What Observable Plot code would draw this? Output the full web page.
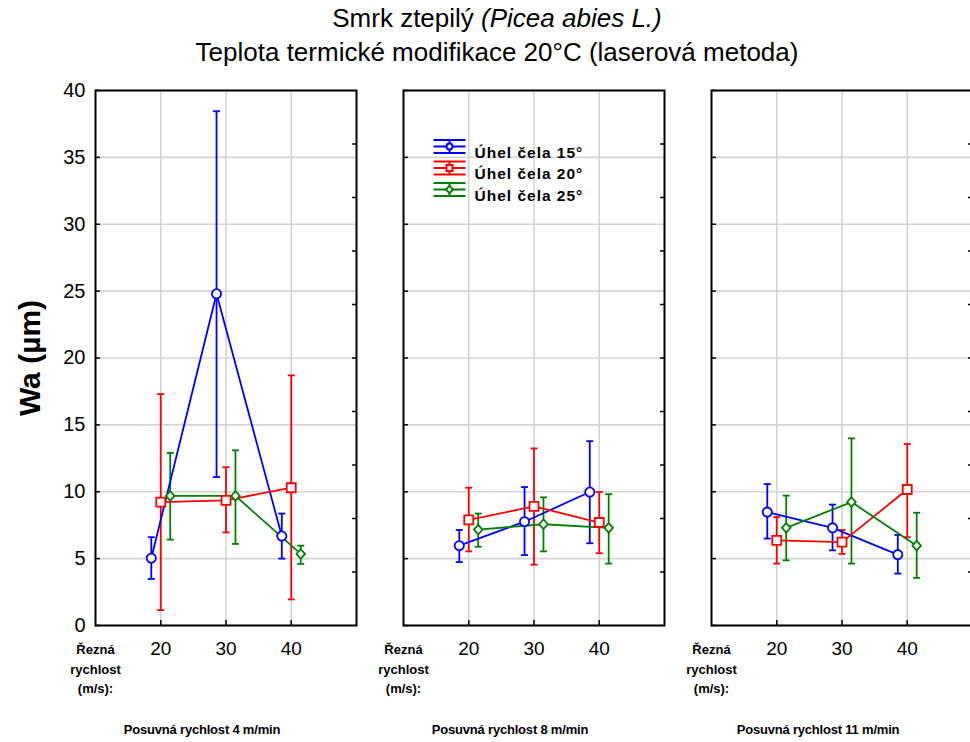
<!DOCTYPE html>
<html><head><meta charset="utf-8">
<script src="https://cdn.jsdelivr.net/npm/d3@7"></script>
<script src="https://cdn.jsdelivr.net/npm/@observablehq/plot@0.6"></script>
<style>
html,body{margin:0;padding:0;overflow:hidden;background:#fff;}
#wrap{position:relative;width:970px;height:742px;overflow:hidden;font-family:Arial,"Liberation Sans",sans-serif;}
#title{position:absolute;left:12px;top:1px;width:970px;text-align:center;font-size:26px;line-height:34px;color:#000;}
#chart{position:absolute;left:0;top:0;}
</style></head><body>
<div id="wrap"><div id="chart"></div><div id="title">Smrk ztepilý <i>(Picea abies L.)</i><br>Teplota termické modifikace 20°C (laserová metoda)</div></div>
<script>
// ---- data ----
const panels = ["Posuvná rychlost 4 m/min", "Posuvná rychlost 8 m/min", "Posuvná rychlost 11 m/min"];
const speeds = [20, 30, 40];
const series = ["Úhel čela 15°", "Úhel čela 20°", "Úhel čela 25°"];
const colors = ["#0000ff", "#ff0000", "#008000"];
const yTicks = [0, 5, 10, 15, 20, 25, 30, 35, 40];
const rightTicks = [4, 8, 12, 16, 20, 24, 28, 32, 36];
const rezna = "Řezná\nrychlost\n(m/s):";

// values per series, panel-major (4, 8, 11 m/min) x speed (20, 30, 40)
const mean15 = [5.03, 24.8, 6.69, 5.97, 7.76, 9.98, 8.48, 7.30, 5.30];
const high15 = [6.60, 38.45, 8.37, 7.14, 10.35, 13.78, 10.57, 9.04, 6.77];
const low15  = [3.48, 11.10, 5.00, 4.74, 5.27, 6.15, 6.50, 5.62, 3.88];
const mean20 = [9.23, 9.36, 10.30, 7.89, 8.91, 7.70, 6.37, 6.23, 10.17];
const high20 = [17.30, 11.83, 18.70, 10.30, 13.24, 9.98, 8.10, 7.14, 13.57];
const low20  = [1.15, 6.96, 1.95, 5.54, 4.55, 5.40, 4.63, 5.35, 6.60];
const mean25 = [9.69, 9.69, 5.35, 7.17, 7.57, 7.30, 7.30, 9.23, 5.97];
const high25 = [12.90, 13.10, 5.97, 8.37, 9.58, 9.82, 9.71, 13.99, 8.43];
const low25  = [6.42, 6.10, 4.60, 5.89, 5.54, 4.63, 4.87, 4.63, 3.56];

const means = [mean15, mean20, mean25];
const highs = [high15, high20, high25];
const lows = [low15, low20, low25];

// ---- layout / style helpers ----
const dodge = [-1.45, 0, 1.45];

const circleSym = {draw(ctx) { ctx.moveTo(4.6, 0); ctx.arc(0, 0, 4.6, 0, 2 * Math.PI); }};
const squareSym = {draw(ctx) { ctx.rect(-4.5, -4.5, 9, 9); }};
const diamondSym = {draw(ctx) { ctx.moveTo(0, -4.8); ctx.lineTo(4.3, 0); ctx.lineTo(0, 4.8); ctx.lineTo(-4.3, 0); ctx.closePath(); }};
const smallCircle = {draw(ctx) { ctx.moveTo(3, 0); ctx.arc(0, 0, 3, 0, 2 * Math.PI); }};
const smallSquare = {draw(ctx) { ctx.rect(-3, -3, 6, 6); }};
const smallDiamond = {draw(ctx) { ctx.moveTo(0, -3.6); ctx.lineTo(3.6, 0); ctx.lineTo(0, 3.6); ctx.lineTo(-3.6, 0); ctx.closePath(); }};
const symbolShapes = [circleSym, squareSym, diamondSym];
const legendShapes = [smallCircle, smallSquare, smallDiamond];

const rows = [];
series.forEach((s, si) => panels.forEach((p, pi) => speeds.forEach((v, vi) => {
  const k = pi * 3 + vi;
  rows.push({panel: p, series: s, si, speed: v, mean: means[si][k], lo: lows[si][k], hi: highs[si][k]});
})));
const X = d => d.speed + dodge[d.si];

const capSymbol = {draw(ctx) { ctx.moveTo(-3.5, 0); ctx.lineTo(3.5, 0); }};
const legendGlyph = {draw(ctx) {
  for (const yy of [-6.5, 0, 6.5]) { ctx.moveTo(-16, yy); ctx.lineTo(16, yy); }
  ctx.moveTo(0, -6.5); ctx.lineTo(0, 6.5);
}};

const SW = 1.8;
const legendMarks = series.flatMap((s, i) => [
  Plot.dot([s], {fx: () => panels[1], frameAnchor: "top-left", dx: 46, dy: 56 + 21.5 * i,
    symbol: legendGlyph, stroke: colors[i], strokeWidth: 2, fill: "none"}),
  Plot.dot([s], {fx: () => panels[1], frameAnchor: "top-left", dx: 46, dy: 56 + 21.5 * i,
    symbol: legendShapes[i], stroke: colors[i], strokeWidth: 2, fill: "white"}),
  Plot.text([s], {fx: () => panels[1], frameAnchor: "top-left", dx: 71, dy: 56 + 21.5 * i,
    text: d => d, textAnchor: "start", fontSize: 15.5, fontWeight: "bold", fill: "black"})
]);

const chart = Plot.plot({
  width: 975,
  height: 742,
  marginLeft: 94,
  marginRight: 2,
  marginTop: 90,
  marginBottom: 117,
  style: {fontFamily: "Arial, 'Liberation Sans', sans-serif", color: "black", background: "white", maxWidth: "none", overflow: "visible"},
  fx: {domain: panels, paddingInner: 0.154, paddingOuter: 0, axis: null, label: null},
  x: {domain: [10, 50]},
  y: {domain: [0, 40]},
  color: {domain: series, range: colors},
  symbol: {domain: series, range: symbolShapes},
  marks: [
    Plot.gridY({ticks: yTicks, stroke: "#d4d4d4", strokeOpacity: 1, strokeWidth: 1.6}),
    Plot.gridX({ticks: speeds, stroke: "#d4d4d4", strokeOpacity: 1, strokeWidth: 1.6}),
    Plot.ruleX(rows, {fx: "panel", x: X, y1: "lo", y2: "hi", stroke: "series", strokeWidth: SW}),
    Plot.dot(rows, {fx: "panel", x: X, y: "lo", symbol: capSymbol, stroke: "series", strokeWidth: SW, fill: "none"}),
    Plot.dot(rows, {fx: "panel", x: X, y: "hi", symbol: capSymbol, stroke: "series", strokeWidth: SW, fill: "none"}),
    Plot.line(rows, {fx: "panel", x: X, y: "mean", z: "series", stroke: "series", strokeWidth: SW}),
    Plot.dot(rows, {fx: "panel", x: X, y: "mean", symbol: "series", stroke: "series", fill: "white", strokeWidth: SW}),
    Plot.frame({stroke: "black", strokeWidth: 2}),
    Plot.axisY({ticks: yTicks, tickSize: 0, tickPadding: 10, fontSize: 20, label: null}),
    Plot.axisY({ticks: yTicks, tickSize: -5, tickFormat: () => "", label: null, facetAnchor: null, strokeWidth: 1.5}),
    Plot.axisY({anchor: "right", ticks: rightTicks, tickSize: -5, tickFormat: () => "", label: null, facetAnchor: null, strokeWidth: 1.5}),
    Plot.axisX({ticks: speeds, tickSize: 0, tickPadding: 16, fontSize: 19, label: null}),
    Plot.axisX({ticks: speeds, tickSize: -5, tickFormat: () => "", label: null, strokeWidth: 1.5}),
    Plot.text(panels, {fx: d => d, text: () => rezna, frameAnchor: "bottom-left", textAnchor: "middle",
      lineAnchor: "top", dy: 15, fontSize: 13, fontWeight: "bold", lineHeight: 1.5, fill: "black"}),
    Plot.text(panels, {fx: d => d, text: d => d, frameAnchor: "bottom", lineAnchor: "top",
      dy: 99, dx: -24, fontSize: 13, fontWeight: "bold", fill: "black"}),
    Plot.text([panels[0]], {fx: d => d, text: () => "Wa (µm)", frameAnchor: "left", textAnchor: "middle", rotate: -90,
      dx: -65, fontSize: 30, fontWeight: "bold", fill: "black"}),
    ...legendMarks
  ]
});
document.getElementById("chart").appendChild(chart);
d3.select(chart).selectAll("text").filter(function() { return this.textContent.startsWith("Úhel"); })
  .attr("letter-spacing", "1px");
d3.select(chart).selectAll("text").filter(function() { return this.textContent.startsWith("Posuvná"); })
  .attr("letter-spacing", "-0.2px");
</script>
</body></html>
